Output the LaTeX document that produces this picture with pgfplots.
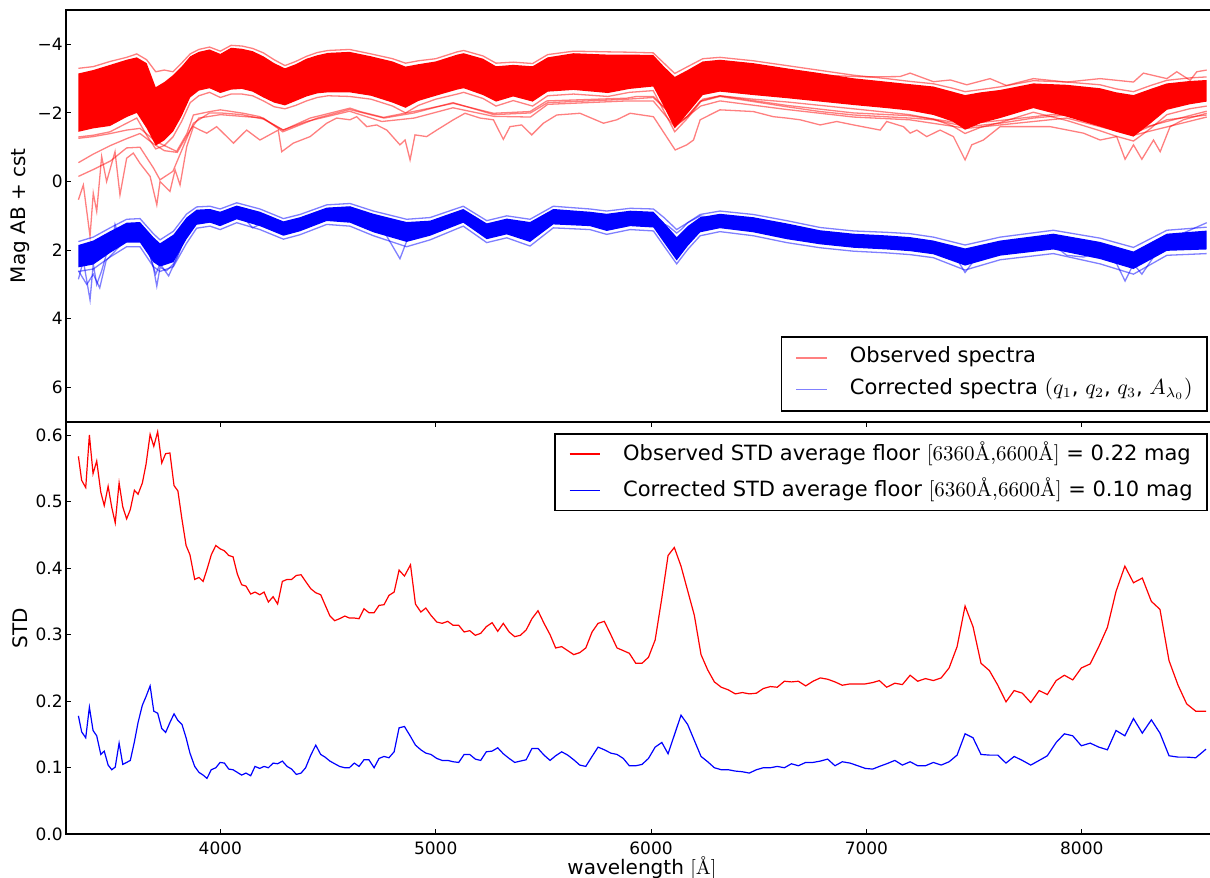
\documentclass[border=0pt]{standalone}
\usepackage{pgfplots}
\pgfplotsset{compat=1.18}
\usepackage{pgfplotstable}
\usepackage{fontspec}
\setsansfont{DejaVu Sans}
\renewcommand{\familydefault}{\sfdefault}

\pgfplotstableread{
lam obs cor
3341 0.568 0.178
3356 0.532 0.154
3375 0.521 0.145
3392 0.600 0.191
3409 0.542 0.156
3426 0.561 0.148
3445 0.514 0.120
3461 0.494 0.125
3479 0.523 0.104
3496 0.491 0.097
3512 0.468 0.101
3530 0.528 0.137
3547 0.492 0.105
3565 0.474 0.108
3582 0.488 0.111
3601 0.517 0.139
3618 0.511 0.168
3638 0.528 0.194
3655 0.556 0.207
3674 0.601 0.223
3691 0.583 0.185
3709 0.605 0.182
3728 0.558 0.159
3746 0.572 0.153
3766 0.573 0.168
3785 0.524 0.181
3803 0.516 0.171
3822 0.473 0.165
3841 0.434 0.145
3859 0.420 0.122
3881 0.383 0.102
3901 0.386 0.093
3920 0.380 0.089
3938 0.398 0.084
3958 0.420 0.097
3979 0.434 0.100
3999 0.429 0.108
4019 0.426 0.107
4039 0.419 0.098
4059 0.417 0.097
4079 0.391 0.093
4099 0.375 0.089
4119 0.373 0.092
4141 0.361 0.088
4161 0.364 0.102
4183 0.360 0.099
4203 0.364 0.102
4223 0.349 0.100
4245 0.357 0.107
4266 0.346 0.106
4288 0.380 0.110
4310 0.383 0.102
4331 0.383 0.098
4353 0.389 0.090
4375 0.390 0.092
4396 0.380 0.100
4420 0.369 0.119
4443 0.363 0.134
4466 0.360 0.120
4486 0.345 0.116
4509 0.328 0.110
4531 0.321 0.106
4554 0.324 0.102
4578 0.328 0.100
4599 0.325 0.100
4622 0.325 0.107
4644 0.324 0.102
4667 0.339 0.112
4690 0.333 0.112
4714 0.333 0.100
4737 0.344 0.114
4760 0.345 0.117
4783 0.359 0.115
4807 0.364 0.124
4830 0.397 0.160
4855 0.388 0.162
4883 0.405 0.147
4906 0.346 0.134
4931 0.334 0.127
4954 0.340 0.122
4978 0.329 0.120
5005 0.319 0.114
5030 0.317 0.111
5056 0.320 0.111
5081 0.314 0.109
5107 0.314 0.108
5132 0.304 0.120
5158 0.306 0.120
5184 0.299 0.113
5209 0.302 0.111
5235 0.312 0.124
5262 0.318 0.125
5288 0.305 0.130
5314 0.317 0.121
5341 0.304 0.114
5367 0.297 0.108
5393 0.299 0.110
5420 0.307 0.112
5447 0.324 0.129
5475 0.336 0.129
5503 0.317 0.119
5531 0.300 0.111
5557 0.280 0.118
5585 0.282 0.124
5613 0.276 0.119
5641 0.270 0.112
5669 0.273 0.104
5697 0.280 0.102
5726 0.304 0.117
5754 0.317 0.131
5783 0.320 0.127
5813 0.300 0.122
5842 0.280 0.120
5871 0.276 0.114
5899 0.272 0.103
5929 0.257 0.103
5958 0.257 0.105
5988 0.266 0.114
6019 0.292 0.131
6050 0.355 0.138
6079 0.419 0.121
6108 0.431 0.149
6139 0.403 0.179
6170 0.366 0.165
6201 0.329 0.141
6232 0.270 0.117
6263 0.247 0.109
6294 0.229 0.100
6326 0.221 0.097
6359 0.217 0.097
6391 0.211 0.095
6424 0.213 0.094
6456 0.211 0.092
6489 0.212 0.097
6521 0.219 0.100
6554 0.222 0.100
6586 0.221 0.102
6619 0.230 0.100
6652 0.229 0.106
6684 0.230 0.103
6718 0.223 0.108
6752 0.230 0.108
6786 0.235 0.110
6820 0.233 0.113
6854 0.229 0.103
6888 0.224 0.109
6924 0.226 0.107
6960 0.226 0.103
6995 0.226 0.099
7029 0.228 0.098
7060 0.231 0.102
7094 0.221 0.106
7132 0.227 0.111
7167 0.225 0.104
7203 0.239 0.109
7238 0.230 0.103
7274 0.234 0.103
7311 0.231 0.108
7347 0.235 0.104
7384 0.250 0.109
7421 0.282 0.119
7458 0.343 0.151
7495 0.312 0.145
7532 0.257 0.120
7571 0.246 0.119
7610 0.224 0.119
7648 0.199 0.107
7686 0.216 0.117
7724 0.212 0.111
7763 0.198 0.104
7802 0.216 0.111
7840 0.210 0.118
7881 0.231 0.138
7919 0.239 0.151
7958 0.232 0.148
7998 0.250 0.133
8039 0.256 0.137
8079 0.282 0.131
8119 0.311 0.127
8159 0.365 0.156
8200 0.403 0.148
8240 0.378 0.174
8281 0.385 0.152
8323 0.350 0.172
8363 0.338 0.152
8405 0.261 0.118
8447 0.224 0.116
8487 0.196 0.116
8529 0.185 0.115
8577 0.185 0.128
}\stdtab

% red band: edge lines (EU = upper edge, EL = lower edge)
\pgfplotstableread{
lam EU EL
3341 -3.30 -1.30
3410 -3.35 -1.35
3488 -3.50 -1.45
3565 -3.62 -1.70
3612 -3.72 -1.85
3658 -3.55 -1.35
3700 -3.20 -0.95
3740 -3.25 -1.05
3780 -3.20 -1.30
3820 -3.45 -1.75
3860 -3.72 -2.30
3900 -3.85 -2.50
3950 -3.92 -2.60
4000 -3.80 -2.45
4050 -3.97 -2.55
4100 -3.95 -2.55
4150 -3.88 -2.50
4200 -3.75 -2.35
4250 -3.55 -2.18
4300 -3.38 -2.12
4350 -3.50 -2.22
4400 -3.65 -2.35
4450 -3.76 -2.45
4500 -3.82 -2.50
4600 -3.85 -2.48
4700 -3.72 -2.40
4800 -3.58 -2.20
4860 -3.45 -2.00
4920 -3.52 -2.22
5000 -3.58 -2.40
5100 -3.78 -2.55
5130 -3.82 -2.60
5220 -3.66 -2.42
5280 -3.45 -2.20
5360 -3.48 -2.36
5450 -3.44 -2.20
5520 -3.70 -2.50
5640 -3.80 -2.55
5800 -3.78 -2.48
5900 -3.77 -2.60
6010 -3.75 -2.65
6060 -3.45 -2.05
6110 -3.15 -1.45
6170 -3.35 -1.85
6240 -3.58 -2.40
6320 -3.62 -2.50
6475 -3.52 -2.40
6630 -3.38 -2.32
6785 -3.24 -2.22
6940 -3.10 -2.12
7094 -3.00 -2.02
7200 -2.92 -1.95
7311 -2.85 -1.82
7400 -2.72 -1.62
7458 -2.62 -1.40
7530 -2.68 -1.58
7621 -2.76 -1.72
7775 -2.94 -2.02
7930 -2.90 -1.78
8085 -2.82 -1.48
8160 -2.70 -1.32
8240 -2.62 -1.18
8320 -2.80 -1.55
8395 -2.95 -1.95
8500 -3.02 -2.12
8580 -3.05 -2.20
}\redband

% red band core outline: upper edge left to right, then lower edge right to left
\pgfplotstableread{
lam m
3341 -3.15
3410 -3.25
3488 -3.40
3565 -3.55
3612 -3.62
3658 -3.45
3700 -2.75
3740 -2.90
3780 -3.10
3820 -3.35
3860 -3.65
3900 -3.78
3950 -3.85
4000 -3.72
4050 -3.90
4100 -3.87
4150 -3.80
4200 -3.65
4250 -3.45
4300 -3.30
4350 -3.42
4400 -3.58
4450 -3.68
4500 -3.75
4600 -3.78
4700 -3.65
4800 -3.50
4860 -3.35
4920 -3.42
5000 -3.50
5100 -3.70
5130 -3.74
5220 -3.58
5280 -3.36
5360 -3.40
5450 -3.36
5520 -3.62
5640 -3.74
5800 -3.70
5900 -3.70
6010 -3.69
6060 -3.35
6110 -3.05
6170 -3.25
6240 -3.50
6320 -3.55
6475 -3.45
6630 -3.30
6785 -3.16
6940 -3.01
7094 -2.91
7200 -2.84
7311 -2.77
7400 -2.62
7458 -2.52
7530 -2.60
7621 -2.67
7775 -2.86
7930 -2.82
8085 -2.72
8160 -2.60
8240 -2.52
8320 -2.70
8395 -2.86
8500 -2.93
8580 -2.96
8580 -2.33
8500 -2.25
8395 -2.09
8320 -1.70
8240 -1.31
8160 -1.45
8085 -1.60
7930 -1.89
7775 -2.14
7621 -1.85
7530 -1.70
7458 -1.51
7400 -1.75
7311 -1.94
7200 -2.07
7094 -2.14
6940 -2.23
6785 -2.33
6630 -2.43
6475 -2.52
6320 -2.62
6240 -2.52
6170 -1.99
6110 -1.55
6060 -2.18
6010 -2.77
5900 -2.70
5800 -2.58
5640 -2.67
5520 -2.62
5450 -2.33
5360 -2.48
5280 -2.33
5220 -2.52
5130 -2.72
5100 -2.68
5000 -2.50
4920 -2.35
4860 -2.15
4800 -2.30
4700 -2.50
4600 -2.60
4500 -2.60
4450 -2.57
4400 -2.48
4350 -2.35
4300 -2.22
4250 -2.30
4200 -2.45
4150 -2.62
4100 -2.70
4050 -2.68
4000 -2.58
3950 -2.72
3900 -2.65
3860 -2.45
3820 -1.90
3780 -1.45
3740 -1.20
3700 -1.05
3658 -1.55
3612 -2.00
3565 -1.88
3488 -1.62
3410 -1.55
3341 -1.45
}\redcore

\pgfplotstableread{
lam EU EL
3341 1.75 2.62
3410 1.62 2.55
3488 1.35 2.20
3565 1.10 1.90
3627 1.08 1.90
3689 1.52 2.48
3720 1.70 2.62
3782 1.45 2.48
3843 0.95 1.80
3890 0.74 1.36
3952 0.72 1.30
3999 0.80 1.40
4076 0.62 1.20
4184 0.80 1.40
4293 1.08 1.68
4370 0.96 1.55
4494 0.68 1.25
4602 0.64 1.30
4711 0.86 1.58
4865 1.10 1.90
4974 1.05 1.70
5128 0.72 1.30
5237 1.14 1.78
5330 1.00 1.64
5438 1.10 1.88
5546 0.72 1.35
5716 0.80 1.40
5794 0.86 1.54
5903 0.78 1.40
6011 0.80 1.44
6060 1.05 1.88
6119 1.40 2.40
6170 1.20 1.98
6228 0.96 1.58
6320 0.86 1.46
6475 0.96 1.58
6630 1.14 1.78
6785 1.34 1.93
6940 1.44 2.03
7094 1.48 2.08
7203 1.52 2.13
7311 1.62 2.22
7458 1.85 2.58
7621 1.62 2.28
7868 1.42 2.10
8085 1.65 2.40
8240 1.92 2.70
8395 1.42 2.15
8580 1.33 2.10
}\blueband

\pgfplotstableread{
lam m
3341 1.85
3410 1.72
3488 1.45
3565 1.20
3627 1.18
3689 1.62
3720 1.80
3782 1.55
3843 1.05
3890 0.82
3952 0.80
3999 0.88
4076 0.70
4184 0.88
4293 1.16
4370 1.04
4494 0.76
4602 0.72
4711 0.94
4865 1.18
4974 1.14
5128 0.80
5237 1.22
5330 1.08
5438 1.18
5546 0.80
5716 0.88
5794 0.94
5903 0.85
6011 0.88
6060 1.20
6119 1.62
6170 1.30
6228 1.04
6320 0.94
6475 1.04
6630 1.22
6785 1.42
6940 1.52
7094 1.57
7203 1.62
7311 1.72
7458 1.95
7621 1.72
7868 1.52
8085 1.76
8240 2.04
8395 1.52
8580 1.43
8580 1.98
8395 2.02
8240 2.55
8085 2.26
7868 1.98
7621 2.16
7458 2.45
7311 2.12
7203 2.03
7094 1.98
6940 1.93
6785 1.83
6630 1.68
6475 1.48
6320 1.36
6228 1.48
6170 1.88
6119 2.30
6060 1.78
6011 1.34
5903 1.30
5794 1.44
5716 1.30
5546 1.25
5438 1.76
5330 1.54
5237 1.68
5128 1.20
4974 1.58
4865 1.76
4711 1.48
4602 1.20
4494 1.15
4370 1.45
4293 1.58
4184 1.30
4076 1.10
3999 1.30
3952 1.20
3890 1.26
3843 1.68
3782 2.35
3720 2.48
3689 2.35
3627 1.78
3565 1.78
3488 2.08
3410 2.42
3341 2.50
}\bluecore

\begin{document}
\begin{tikzpicture}
\path[use as bounding box] (0,0) rectangle (605pt,439pt);
\pgfplotsset{
  common/.style={
    scale only axis, width=576.2pt,
    xmin=3282, xmax=8633,
    tick align=inside,
    major tick length=2.5pt,
    every tick/.style={black, line width=0.5pt},
    axis line style={line width=0.8pt},
    tick label style={font=\fontsize{8.5pt}{10pt}\selectfont},
    label style={font=\fontsize{8.5pt}{10pt}\selectfont},
    /pgf/number format/assume math mode=true,
    every axis y label/.style={at={(axis description cs:-0.0392,0.5)}, rotate=90, anchor=center},
    yticklabel style={inner xsep=1.3pt},
    xticklabel style={inner ysep=3.6pt, /pgf/number format/1000 sep={}},
    legend cell align=left,
    legend image code/.code={\draw[#1] (0pt,0pt) -- (15.35pt,0pt);},
  },
  spec/.style={line width=0.65pt, opacity=0.5},
}
% ---------------- bottom panel ----------------
\begin{axis}[common,
  at={(32.85pt,21.85pt)}, anchor=south west,
  height=206.3pt,
  ymin=0, ymax=0.62,
  ytick={0,0.1,0.2,0.3,0.4,0.5,0.6},
  yticklabel style={/pgf/number format/.cd, fixed, fixed zerofill, precision=1},
  xtick={4000,5000,6000,7000,8000},
  ylabel={STD},
  xlabel={wavelength {\rmfamily[Å]}},
  every axis x label/.style={at={(axis description cs:0.5,0)}, anchor=north, yshift=-10.9pt, inner sep=0pt},
  legend style={
    at={(0.99106,0.9726)}, anchor=north east,
    draw=black, line width=0.8pt, fill=white,
    inner xsep=7.15pt, inner ysep=5pt, row sep=7.95pt,
    font=\fontsize{10.5pt}{12.6pt}\selectfont,
    nodes={inner sep=0pt, text height=8.35pt, text depth=1.85pt},
    /tikz/every odd column/.append style={column sep=11.15pt},
  },
]
\addplot[red, line width=0.6pt] table[x=lam, y=obs] {\stdtab};
\addlegendentry{Observed STD average floor {\rmfamily[6360Å,6600Å]} = 0.22 mag}
\addplot[blue, line width=0.6pt] table[x=lam, y=cor] {\stdtab};
\addlegendentry{Corrected STD average floor {\rmfamily[6360Å,6600Å]} = 0.10 mag}
\end{axis}
% ---------------- top panel ----------------
\begin{axis}[common,
  at={(32.85pt,228.15pt)}, anchor=south west,
  height=205.85pt,
  y dir=reverse,
  ymin=-5, ymax=7,
  ytick={-4,-2,0,2,4,6},
  yticklabels={−4,−2,0,2,4,6},
  xtick=\empty,
  ylabel={Mag AB + cst},
  legend style={
    at={(0.99106,0.0243)}, anchor=south east,
    draw=black, line width=0.8pt, fill=white,
    inner xsep=7.15pt, inner ysep=5pt, row sep=4.65pt,
    font=\fontsize{10.5pt}{12.6pt}\selectfont,
    nodes={inner sep=0pt, text height=7.85pt, text depth=3.35pt},
    /tikz/every odd column/.append style={column sep=11.15pt},
  },
]
\addlegendimage{color=red!50!white, line width=0.65pt}
\addlegendentry{Observed spectra}
\addlegendimage{color=blue!50!white, line width=0.65pt}
\addlegendentry{Corrected spectra $(q_1$, $q_2$, $q_3$, $A_{\lambda_0})$}
% red band
\addplot[draw=none, fill=red, forget plot] table[x=lam, y=m] {\redcore};
\addplot[red, spec, forget plot] table[x=lam, y=EU] {\redband};
\addplot[red, spec, forget plot] table[x=lam, y=EL] {\redband};
% red outliers
\addplot[red, spec, forget plot] coordinates {
(3341,-1.26) (3410,-1.31) (3490,-1.40) (3565,-1.50) (3627,-1.55) (3700,-1.17) (3797,-0.88) (3845,-1.40) (3875,-1.94) (3952,-2.04) (4000,-2.09) (4107,-1.99) (4184,-1.89) (4293,-1.50) (4417,-1.85) (4602,-2.14) (4649,-2.04) (4757,-1.87) (4896,-2.04) (5082,-2.28) (5268,-1.99) (5438,-2.04) (5516,-2.35) (5887,-2.43) (5933,-2.48) (6011,-2.48) (6073,-2.09) (6119,-1.70) (6166,-1.89) (6228,-2.33) (6320,-2.48) (6475,-2.33) (6630,-2.18) (6785,-2.04) (6940,-1.94) (7203,-1.85) (7311,-1.80) (7466,-1.60) (7621,-1.70) (7775,-1.85) (7930,-1.94) (8085,-1.70) (8240,-1.41) (8395,-1.80) (8580,-1.94)};
\addplot[red, spec, forget plot] coordinates {
(3341,-0.15) (3410,-0.35) (3490,-0.60) (3565,-0.98) (3627,-1.00) (3689,-0.40) (3720,-0.05) (3780,-0.30) (3840,-1.20) (3875,-1.70) (3950,-2.00) (4000,-2.00) (4100,-1.95) (4200,-1.82) (4290,-1.50) (4400,-1.75) (4600,-2.05) (4750,-1.75) (4900,-1.85) (5080,-2.15) (5270,-1.90) (5440,-1.88) (5520,-2.25) (5890,-2.35) (6010,-2.35) (6110,-1.60) (6230,-2.20) (6320,-2.35) (6630,-2.10) (6940,-1.88) (7200,-1.80) (7466,-1.55) (7621,-1.65) (7930,-1.85) (8240,-1.35) (8580,-1.88)};
\addplot[red, spec, forget plot] coordinates {
(3341,-0.55) (3410,-0.80) (3490,-1.05) (3565,-1.25) (3627,-1.40) (3690,-1.10) (3740,-0.90) (3800,-0.85) (3860,-1.50) (3900,-1.85) (4000,-1.95) (4200,-1.85) (4290,-1.45) (4450,-1.85) (4600,-2.10) (4760,-1.85) (4900,-2.00) (5080,-2.30) (5270,-1.95) (5440,-2.00) (5520,-2.30) (5890,-2.40) (6010,-2.45) (6070,-2.10) (6120,-1.65) (6170,-1.90) (6230,-2.35) (6320,-2.50) (6630,-2.22) (6940,-2.00) (7200,-1.92) (7466,-1.68) (7621,-1.78) (7930,-2.00) (8240,-1.50) (8580,-2.05)};
\addplot[red, spec, forget plot] coordinates {
(3341,0.53) (3364,0.10) (3395,1.60) (3410,0.34) (3426,0.87) (3449,-0.73) (3472,0.00) (3511,-0.87) (3534,0.39) (3565,-0.68) (3596,-0.83) (3627,-0.53) (3674,-0.15) (3705,0.68) (3720,0.00) (3766,0.29) (3790,-0.34) (3813,0.10) (3844,-1.02) (3875,-1.60) (3906,-1.50) (3937,-1.41) (3983,-1.60) (4030,-1.31) (4061,-1.12) (4122,-1.50) (4184,-1.21) (4269,-1.50) (4285,-0.87) (4339,-1.12) (4417,-1.31) (4494,-1.70) (4540,-1.85) (4602,-1.80) (4633,-1.89) (4680,-1.60) (4726,-1.65) (4773,-1.50) (4834,-1.07) (4858,-1.21) (4881,-0.63) (4904,-1.36) (4958,-1.31) (5005,-1.50) (5082,-1.80) (5136,-1.99) (5206,-1.85) (5268,-1.80) (5314,-1.23) (5345,-1.60) (5399,-1.65) (5446,-1.36) (5500,-1.70) (5562,-1.94) (5670,-1.99) (5779,-1.70) (5841,-1.80) (5903,-1.99) (6011,-1.89) (6112,-0.92) (6166,-1.07) (6197,-1.21) (6228,-1.80) (6320,-2.09) (6475,-2.04) (6568,-1.89) (6630,-1.85) (6692,-1.80) (6785,-1.65) (6862,-1.75) (6940,-1.65) (7064,-1.50) (7094,-1.75) (7172,-1.60) (7203,-1.41) (7234,-1.50) (7280,-1.31) (7342,-1.50) (7404,-1.31) (7458,-0.63) (7489,-1.07) (7543,-1.21) (7621,-1.60) (7853,-1.60) (8008,-1.41) (8085,-1.21) (8162,-1.31) (8201,-0.65) (8240,-1.07) (8279,-0.65) (8333,-1.21) (8364,-0.87) (8410,-1.60) (8472,-1.80) (8580,-1.99)};
\addplot[red, spec, forget plot] coordinates {
(6475,-3.30) (6785,-3.10) (7000,-3.05) (7156,-3.06) (7203,-3.16) (7311,-2.91) (7390,-2.96) (7466,-2.82) (7574,-3.00) (7650,-2.80) (7775,-3.00) (7930,-2.90) (8085,-3.00) (8240,-2.90) (8286,-3.16) (8395,-3.00) (8441,-3.20) (8503,-2.95) (8534,-3.20) (8580,-3.25)};
% blue band
\addplot[draw=none, fill=blue, forget plot] table[x=lam, y=m] {\bluecore};
\addplot[blue, spec, forget plot] table[x=lam, y=EU] {\blueband};
\addplot[blue, spec, forget plot] table[x=lam, y=EL] {\blueband};
% blue outliers
\addplot[blue, spec, forget plot] coordinates {
(3341,2.85) (3364,2.30) (3380,2.90) (3395,3.45) (3410,2.40) (3426,3.00) (3449,2.60) (3472,2.10) (3495,1.95) (3511,1.25) (3534,1.70) (3565,1.50) (3596,1.35) (3627,1.40) (3658,1.80) (3689,2.50) (3705,3.05) (3720,2.50) (3750,2.60) (3782,2.40) (3813,2.00) (3843,1.50) (3890,1.10) (3952,1.00) (4000,1.10) (4050,0.95) (4100,1.00) (4150,1.35) (4200,1.20) (4290,1.50) (4370,1.30) (4500,0.90) (4600,0.95) (4680,1.30) (4750,1.35) (4834,2.25) (4880,1.50) (4974,1.40) (5128,1.00) (5237,1.45) (5330,1.30) (5438,1.70) (5546,1.00) (5716,1.10) (5794,1.20) (5903,1.05) (6011,1.10) (6080,1.30) (6119,1.50) (6140,1.40) (6170,1.20) (6228,1.00) (6320,1.10) (6475,1.25) (6630,1.45) (6785,1.60) (6940,1.70) (7094,1.80) (7203,1.85) (7311,1.90) (7404,2.10) (7458,2.65) (7500,2.30) (7621,1.95) (7775,1.75) (7868,1.85) (7930,2.15) (8008,2.20) (8085,2.05) (8162,2.40) (8201,2.90) (8240,2.40) (8279,2.70) (8333,2.20) (8395,1.70) (8472,1.50) (8580,1.20)};
\addplot[blue, spec, forget plot] coordinates {
(3341,2.60) (3380,3.00) (3410,2.70) (3440,3.10) (3470,2.30) (3530,1.90) (3600,1.60) (3650,1.70) (3700,2.70) (3720,2.40) (3760,2.75) (3800,2.20) (3850,1.40) (3900,1.00)};
\end{axis}
\end{tikzpicture}
\end{document}
